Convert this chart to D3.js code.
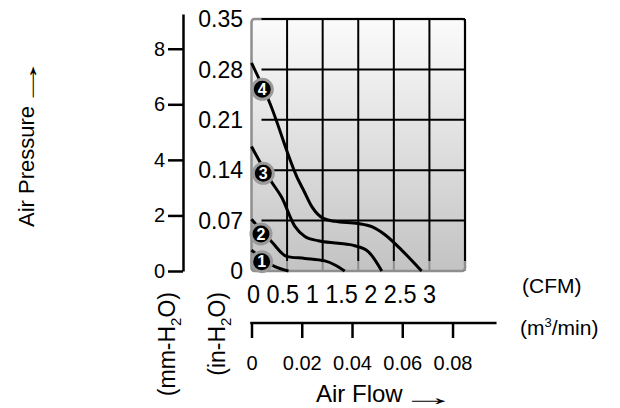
<!DOCTYPE html>
<html lang="en">
<head>
<meta charset="utf-8">
<title>Fan P-Q curves</title>
<script src="https://cdn.jsdelivr.net/npm/d3@7"></script>
<style>
  body { margin: 0; background: #fff; }
  text { font-family: "Liberation Sans", Arial, sans-serif; fill: #000; }
</style>
</head>
<body>
<script>
// flow in CFM, pressure in in-H2O
var curveIds = [1, 2, 3, 4];
var flow1 = [0, 0.33, 0.52];
var press1 = [0.029, 0.006, 0];
var flow2 = [0, 0.28, 0.5, 0.75, 1.03, 1.18, 1.31];
var press2 = [0.072, 0.041, 0.02, 0.0175, 0.014, 0.008, 0];
var flow3 = [0, 0.28, 0.42, 0.61, 0.75, 0.94, 1.22, 1.45, 1.64, 1.83];
var press3 = [0.173, 0.124, 0.103, 0.062, 0.048, 0.042, 0.0385, 0.035, 0.027, 0];
var flow4 = [0, 0.24, 0.66, 0.73, 0.85, 1.01, 1.17, 1.5, 1.69, 1.88, 2.11, 2.39];
var press4 = [0.289, 0.2375, 0.126, 0.1125, 0.089, 0.073, 0.069, 0.066, 0.0615, 0.05, 0.029, 0];

// numbered badges on each curve
var markerFlow = [0.143, 0.133, 0.166, 0.152];
var markerPress = [0.0129, 0.0514, 0.1357, 0.2524];

var inTicks = [0, 0.07, 0.14, 0.21, 0.28, 0.35];
var mmTicks = [0, 2, 4, 6, 8];
var cfmLabels = ["0", "0.5", "1", "1.5", "2", "2.5", "3"];
var m3Ticks = [0, 0.02, 0.04, 0.06, 0.08];
var gridFlow = [0.5, 1, 1.5, 2, 2.5, 3];
var gridPress = [0.07, 0.14, 0.21, 0.28, 0.35];

var w = 620, h = 408;
var svg = d3.select("body").append("svg").attr("width", w).attr("height", h);

var x = d3.scaleLinear().domain([0, 3]).range([251.5, 465]);
var y = d3.scaleLinear().domain([0, 0.35]).range([271, 19]);
var yMm = d3.scaleLinear().domain([0, 9.25]).range([271, 14]);
var xM3 = d3.scaleLinear().domain([0, 3 * 0.02832]).range([251.5, 465]);

// plot background
var grad = svg.append("defs").append("linearGradient")
  .attr("id", "bg").attr("x1", 0).attr("y1", 0).attr("x2", 0).attr("y2", 1);
grad.append("stop").attr("offset", "0%").attr("stop-color", "#fbfbfb");
grad.append("stop").attr("offset", "100%").attr("stop-color", "#c3c3c3");

svg.append("rect")
  .attr("x", x(0)).attr("y", y(0.35))
  .attr("width", x(3) - x(0)).attr("height", y(0) - y(0.35))
  .attr("rx", 3)
  .attr("fill", "url(#bg)")
  .attr("stroke", "#8e8e8e").attr("stroke-width", 2.5);

// grid, inset a little from the left and bottom border
var inset = 10;
svg.selectAll(".hgrid").data(gridPress).enter().append("line")
  .attr("x1", x(0) + inset).attr("x2", x(3))
  .attr("y1", function(d) { return y(d); }).attr("y2", function(d) { return y(d); })
  .attr("stroke", "#000").attr("stroke-width", 2);
svg.selectAll(".vgrid").data(gridFlow).enter().append("line")
  .attr("x1", function(d) { return x(d); }).attr("x2", function(d) { return x(d); })
  .attr("y1", y(0.35)).attr("y2", y(0) - inset)
  .attr("stroke", "#000").attr("stroke-width", 2);
svg.selectAll(".vgrid2").data(gridFlow).enter().append("line")
  .attr("x1", function(d) { return x(d); }).attr("x2", function(d) { return x(d); })
  .attr("y1", y(0) - inset).attr("y2", y(0))
  .attr("stroke", "#8e8e8e").attr("stroke-width", 2);

// curves
var flows = [flow1, flow2, flow3, flow4];
var presses = [press1, press2, press3, press4];
var line = d3.line().curve(d3.curveMonotoneX)
  .x(function(d) { return x(d[0]); })
  .y(function(d) { return y(d[1]); });

curveIds.forEach(function(id, i) {
  var pts = flows[i].map(function(f, j) { return [f, presses[i][j]]; });
  svg.append("path")
    .attr("d", line(pts))
    .attr("fill", "none")
    .attr("stroke", "#000")
    .attr("stroke-width", 3);
});

var badges = svg.selectAll(".badge").data(curveIds).enter().append("g")
  .attr("transform", function(d, i) {
    return "translate(" + x(markerFlow[i]) + "," + y(markerPress[i]) + ")";
  });
badges.append("circle").attr("r", 10)
  .attr("fill", "#000").attr("stroke", "#9a9a9a").attr("stroke-width", 3);
badges.append("text").text(function(d) { return d; })
  .attr("text-anchor", "middle").attr("dy", "0.36em")
  .attr("font-size", "16px").attr("font-weight", "bold")
  .style("fill", "#fff");

// in-H2O labels (no axis line)
svg.selectAll(".inlab").data(inTicks).enter().append("text")
  .text(function(d) { return d === 0 ? "0" : d.toFixed(2); })
  .attr("x", 243).attr("y", function(d) { return y(d); })
  .attr("dy", "0.36em")
  .attr("text-anchor", "end")
  .attr("font-size", "23px");

// mm-H2O axis
var mmAxis = d3.axisLeft(yMm).tickValues(mmTicks).tickSize(15).tickSizeOuter(0).tickPadding(3);
var gmm = svg.append("g").attr("transform", "translate(183,0)").call(mmAxis);
gmm.selectAll("path, line").attr("stroke", "#000").attr("stroke-width", 2.5);
gmm.selectAll("text").attr("font-size", "20px").attr("font-family", null);

// CFM label row
svg.append("text")
  .text(cfmLabels.join(" "))
  .attr("x", 247).attr("y", 303)
  .attr("font-size", "25px")
  .attr("textLength", 189)
  .attr("lengthAdjust", "spacingAndGlyphs");

svg.append("text").text("(CFM)")
  .attr("x", 522).attr("y", 293).attr("font-size", "21px");

// m3/min axis
var m3Axis = d3.axisBottom(xM3).tickValues(m3Ticks).tickSize(15).tickSizeOuter(0).tickPadding(18)
  .tickFormat(function(d) { return d === 0 ? "0" : d.toFixed(2); });
var gm3 = svg.append("g").attr("transform", "translate(0,323)").call(m3Axis);
gm3.select(".domain").remove();
gm3.selectAll("line").attr("stroke", "#000").attr("stroke-width", 2.5);
gm3.selectAll("text").attr("font-size", "20px").attr("font-family", null);
gm3.append("line")
  .attr("x1", xM3(0) - 1.25).attr("x2", xM3(0.0975))
  .attr("stroke", "#000").attr("stroke-width", 2.5);

var m3lab = svg.append("text").attr("x", 520).attr("y", 335).attr("font-size", "21px");
m3lab.append("tspan").text("(m");
m3lab.append("tspan").text("3").attr("font-size", "13px").attr("dy", "-8");
m3lab.append("tspan").text("/min)").attr("dy", "8");

// axis titles, each followed by a long arrow sitting low on the baseline.
// the 16px arrow glyph has ~3.5px left bearing and ~9.2px of ink; stretch it
var arrowBear = 3.5, arrowInk = 9.2;
function titleWithArrow(g, label, size, gap, arrowLen, drop) {
  var t = g.append("text").text(label).attr("font-size", size + "px");
  var len = t.node().getComputedTextLength();
  var sx = arrowLen / arrowInk;
  g.append("text").text("\u2192")
    .attr("font-family", "DejaVu Sans")
    .attr("font-size", "16px")
    .attr("transform", "translate(" + (len + gap - arrowBear * sx) + "," + drop + ") scale(" + sx + ",1.5)");
}
titleWithArrow(svg.append("g").attr("transform", "translate(316,402)"), "Air Flow", 24, 10, 32, 3);
titleWithArrow(svg.append("g").attr("transform", "translate(34,227) rotate(-90)"), "Air Pressure", 22, 9, 30, 3);

function unitLabel(cx, unit) {
  var t = svg.append("text")
    .attr("transform", "translate(" + cx + ",292) rotate(-90)")
    .attr("text-anchor", "end")
    .attr("font-size", "23px");
  t.append("tspan").text("(" + unit + "-H");
  t.append("tspan").text("2").attr("font-size", "15px").attr("dy", "6");
  t.append("tspan").text("O)").attr("dy", "-6");
}
unitLabel(175, "mm");
unitLabel(225, "in");
</script>
</body>
</html>
